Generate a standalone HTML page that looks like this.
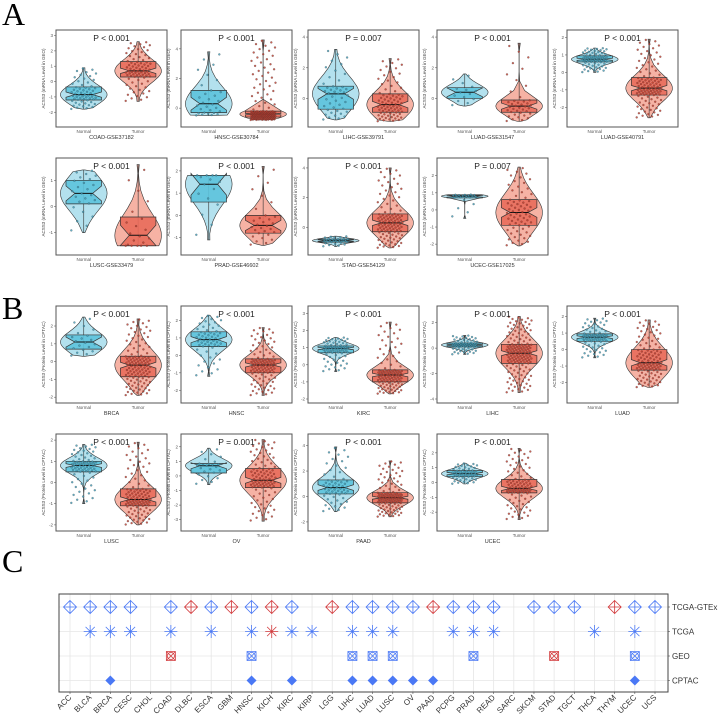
<!DOCTYPE html>
<html><head><meta charset="utf-8">
<style>
html,body{margin:0;padding:0;background:#fff;}
svg{display:block;font-family:"Liberation Sans",sans-serif;}
</style></head>
<body>
<svg id="fig" width="719" height="718" viewBox="0 0 719 718" xmlns="http://www.w3.org/2000/svg">
<text x="2" y="25" font-family="Liberation Serif,serif" font-size="32">A</text>
<text x="2" y="319" font-family="Liberation Serif,serif" font-size="32">B</text>
<text x="2" y="572" font-family="Liberation Serif,serif" font-size="32">C</text>
<g id="violins"></g>
<g id="panelc"></g>
</svg>
<script>
// ---- violin panel data ----
const panelNames = ["COAD-GSE37182","HNSC-GSE30784","LIHC-GSE39791","LUAD-GSE31547","LUAD-GSE40791","LUSC-GSE33479","PRAD-GSE46602","STAD-GSE54129","UCEC-GSE17025",
  "BRCA","HNSC","KIRC","LIHC","LUAD","LUSC","OV","PAAD","UCEC"];
const panelP = ["P < 0.001","P < 0.001","P = 0.007","P < 0.001","P < 0.001","P < 0.001","P < 0.001","P < 0.001","P = 0.007",
  "P < 0.001","P < 0.001","P < 0.001","P < 0.001","P < 0.001","P < 0.001","P = 0.001","P < 0.001","P < 0.001"];
const panelYlim = [[-2.7,3.1],[-1,5],[-1.6,4.2],[-1.6,4.2],[-2.9,2.2],[-1.7,1.7],[-1.6,2.4],[-1.6,4.4],[-2.4,2.8],
  [-2.1,2.9],[-2.5,2.6],[-2,3.2],[-4,3],[-3,2.4],[-2.1,2.1],[-3.5,2.6],[-2.4,4.6],[-3,3]];
const panelTicks = [[-2,-1,0,1,2,3],[0,2,4],[0,2,4],[0,2,4],[-2,-1,0,1,2],[-1,0,1],[-1,0,1,2],[0,2,4],[-2,-1,0,1,2],
  [-2,-1,0,1,2],[-2,-1,0,1,2],[-2,-1,0,1,2,3],[-4,-2,0,2],[-2,-1,0,1,2],[-2,-1,0,1,2],[-3,-2,-1,0,1,2],[-2,0,2,4],[-2,-1,0,1,2]];
const normalStats = [[-1.8,-1.2,-0.85,-0.35,0.9],[-0.5,-0.3,0.3,1.2,3.8],[-1.4,-0.7,0.3,0.8,3.2],[-0.5,0.0,0.4,0.7,1.6],[0,0.6,0.75,0.95,1.4],
  [-1.0,0.1,0.5,1.0,1.4],[-1.1,0.6,1.4,1.8,1.8],[-1.3,-1.0,-0.9,-0.8,-0.6],[-0.5,0.7,0.8,0.85,0.9],
  [0.3,0.7,1.1,1.5,2.5],[-1.2,0.5,0.9,1.35,2.3],[-0.4,0.7,0.95,1.1,1.6],[-0.5,0.1,0.25,0.4,1.0],[-0.5,0.5,0.75,0.95,1.9],
  [-1.0,0.5,0.8,1.0,1.8],[-0.6,0.2,0.7,0.85,1.9],[-1.2,0.2,0.7,1.3,3.9],[-0.1,0.4,0.6,0.8,1.3]];
const tumorStats = [[-1.3,0.3,0.7,1.3,2.6],[-0.8,-0.6,-0.4,-0.2,4.6],[-1.5,-0.9,-0.4,0.3,2.6],[-1.5,-0.9,-0.5,-0.1,3.6],[-2.6,-1.3,-0.9,-0.3,1.9],
  [-1.5,-1.5,-1.1,-0.4,1.6],[-1.35,-0.8,-0.45,0.0,2.2],[-1.4,-0.3,0.3,0.9,4.0],[-2.1,-0.9,-0.15,0.6,2.5],
  [-1.9,-0.85,-0.2,0.3,2.4],[-2.3,-1.0,-0.55,-0.2,1.6],[-1.7,-1.0,-0.6,-0.3,2.5],[-3.5,-1.2,-0.4,0.3,2.5],[-2.3,-1.25,-0.8,0.0,1.8],
  [-2.0,-1.1,-0.8,-0.3,1.9],[-3.1,-0.8,-0.3,0.5,2.5],[-1.6,-0.5,-0.1,0.3,2.8],[-2.5,-0.7,-0.4,0.2,2.3]];
const normalN = [60,30,45,15,80,25,15,30,20,20,60,80,70,80,80,25,60,60];
const tumorN = [80,170,80,40,110,20,30,110,70,120,110,110,150,110,110,100,120,100];

const NS="http://www.w3.org/2000/svg";
function mk(tag,attrs,parent){const e=document.createElementNS(NS,tag);for(const k in attrs)e.setAttribute(k,attrs[k]);if(parent)parent.appendChild(e);return e;}
const colX=[56,181,308,437,567], rowY=[30,158,306,434], PW=111, PH=97;
const vg=document.getElementById('violins');
function quant(s,u){
  const k=[0,0.25,0.5,0.75,1];for(let i=0;i<4;i++){if(u<=k[i+1]){const t=(u-k[i])/(k[i+1]-k[i]);return s[i]+t*(s[i+1]-s[i]);}}return s[4];}
panelNames.forEach((nm,p)=>{
  const x0=colX[p<9?p%5:(p-9)%5], row=p<9?(p<5?0:1):(p-9<5?2:3), y0=rowY[row];
  const g=mk('g',{},vg);
  
  
  const [lo,hi]=panelYlim[p];
  const ys=v=>y0+PH-4-(v-lo)/(hi-lo)*(PH-8);
  panelTicks[p].forEach(t=>{
    mk('line',{x1:x0-2,x2:x0,y1:ys(t),y2:ys(t),stroke:'#666','stroke-width':0.6},g);
    const tl=mk('text',{x:x0-3,y:ys(t)+1.5,'font-size':4.5,'text-anchor':'end',fill:'#555'},g);tl.textContent=t;
  });
  const yl=mk('text',{x:x0-11,y:y0+PH/2,'font-size':4.5,'text-anchor':'middle',fill:'#444',transform:`rotate(-90 ${x0-11} ${y0+PH/2})`},g);
  yl.textContent= p<9?'ACSS3 (mRNA Level in GEO)':'ACSS3 (Protein Level in CPTAC)';
  
  
  [[normalStats[p],0.25,'#b3e1ee','#5cc3db','#3d9bb8',normalN[p],'Normal'],[tumorStats[p],0.74,'#f6b2a4','#e96b5b','#c0392b',tumorN[p],'Tumor']].forEach(([s,f,vc,bc,pc,n,lab],gi)=>{
    const cx=x0+f*PW, vw=PW*0.21, bw=PW*0.16;
    let pts=[];
    for(let i=0;i<=24;i++){const u=i/24;const v=quant(s,u);
      let w;const iq=(s[3]-s[1])||0.1;const d=(v-s[2])/iq;w=Math.exp(-d*d*0.9);if(i==0||i==24)w=0.05;pts.push([v,w]);}
    let path='M'+pts.map(([v,w])=>`${(cx+w*vw).toFixed(1)},${ys(v).toFixed(1)}`).join(' L')+' L'+pts.slice().reverse().map(([v,w])=>`${(cx-w*vw).toFixed(1)},${ys(v).toFixed(1)}`).join(' L')+'Z';
    const vp=mk('path',{d:path,fill:vc,stroke:'#333','stroke-width':0.6},g);
    
    
    mk('line',{x1:cx,x2:cx,y1:ys(s[0]),y2:ys(s[4]),stroke:'#333','stroke-width':0.6},g);
    const nh=Math.min(1.58*(s[3]-s[1])/Math.sqrt(n),(s[3]-s[1])/2);
    const bx=`M${cx-bw},${ys(s[3])} L${cx+bw},${ys(s[3])} L${cx+bw},${ys(s[2]+nh)} L${cx+bw*0.5},${ys(s[2])} L${cx+bw},${ys(s[2]-nh)} L${cx+bw},${ys(s[1])} L${cx-bw},${ys(s[1])} L${cx-bw},${ys(s[2]-nh)} L${cx-bw*0.5},${ys(s[2])} L${cx-bw},${ys(s[2]+nh)}Z`;
    const bp=mk('path',{d:bx,fill:bc,'fill-opacity':0.9,stroke:'#333','stroke-width':0.7},g);
    
    
    mk('line',{x1:cx-bw*0.5,x2:cx+bw*0.5,y1:ys(s[2]),y2:ys(s[2]),stroke:'#111','stroke-width':1},g);
    for(let i=0;i<n;i++){const u=(i+0.5)/n;const v=quant(s,u);const jx=((i*0.618034)%1-0.5)*2*bw*0.7;
      mk('circle',{cx:(cx+jx).toFixed(1),cy:ys(v).toFixed(1),r:1.0,fill:pc,'fill-opacity':0.8,stroke:'#333','stroke-width':0.2},g);}
    const xl=mk('text',{x:cx,y:y0+PH+6,'font-size':4.5,'text-anchor':'middle',fill:'#555'},g);xl.textContent=lab;
  });
  const fr=mk('rect',{x:x0,y:y0,width:PW,height:PH,fill:'none',stroke:'#555','stroke-width':1},g);
  
  
  const pt=mk('text',{x:x0+PW/2,y:y0+11,'font-size':8.5,'text-anchor':'middle',fill:'#222'},g);pt.textContent=panelP[p];
  
  
  const nt=mk('text',{x:x0+PW/2,y:y0+PH+12,'font-size':5.5,'text-anchor':'middle',fill:'#333'},g);nt.textContent=nm;
  
  
});

// ---- panel C data ----
const cancers=["ACC","BLCA","BRCA","CESC","CHOL","COAD","DLBC","ESCA","GBM","HNSC","KICH","KIRC","KIRP","LGG","LIHC","LUAD","LUSC","OV","PAAD","PCPG","PRAD","READ","SARC","SKCM","STAD","TGCT","THCA","THYM","UCEC","UCS"];
const sources=["TCGA-GTEx","TCGA","GEO","CPTAC"];
const gtexDir=[1,1,1,1,0,1,2,1,2,1,2,1,0,2,1,1,1,1,2,1,1,1,0,1,1,1,0,2,1,1];
const tcgaDir=[0,1,1,1,0,1,0,1,0,1,2,1,1,0,1,1,1,0,0,1,1,1,0,0,0,0,1,0,1,0];
const geoDir =[0,0,0,0,0,2,0,0,0,1,0,0,0,0,1,1,1,0,0,0,1,0,0,0,2,0,0,0,1,0];
const cptacDir=[0,0,1,0,0,0,0,0,0,1,0,1,0,0,1,1,1,1,1,0,0,0,0,0,0,0,0,0,1,0];
const pc=document.getElementById('panelc');
const L=59,R=668,T=594,B=692;
const xc=i=>70+i*(655-70)/(cancers.length-1);
const yc=j=>607+j*24.5;
mk('rect',{x:L,y:T,width:R-L,height:B-T,fill:'#fff'},pc);
cancers.forEach((c,i)=>{mk('line',{x1:xc(i),x2:xc(i),y1:T,y2:B,stroke:'#e6e6e6','stroke-width':0.8},pc);
  mk('line',{x1:xc(i),x2:xc(i),y1:B,y2:B+2,stroke:'#555','stroke-width':0.6},pc);
  const t=mk('text',{x:xc(i)+2,y:B+6,'font-size':8,'text-anchor':'end',fill:'#333',transform:`rotate(-45 ${xc(i)+2} ${B+6})`},pc);t.textContent=c;
  
  });
sources.forEach((s,j)=>{mk('line',{x1:L,x2:R,y1:yc(j),y2:yc(j),stroke:'#e6e6e6','stroke-width':0.8},pc);
  mk('line',{x1:R,x2:R+2,y1:yc(j),y2:yc(j),stroke:'#555','stroke-width':0.6},pc);
  const t=mk('text',{x:R+4,y:yc(j)+3,'font-size':8,fill:'#333'},pc);t.textContent=s;
  
  });
const col=d=>d==2?'#d2393b':'#4a78f5';
[gtexDir,tcgaDir,geoDir,cptacDir].forEach((arr,j)=>{arr.forEach((d,i)=>{if(!d)return;
  const x=xc(i),y=yc(j),c=col(d);const g=mk('g',{},pc);
  
  
  if(j==0){mk('path',{d:`M${x},${y-6.5}L${x+6.5},${y}L${x},${y+6.5}L${x-6.5},${y}Z M${x-6.5},${y}H${x+6.5} M${x},${y-6.5}V${y+6.5}`,fill:'none',stroke:c,'stroke-width':0.8},g);}
  else if(j==1){mk('path',{d:`M${x-6.5},${y}H${x+6.5} M${x},${y-6.5}V${y+6.5} M${x-4.6},${y-4.6}L${x+4.6},${y+4.6} M${x-4.6},${y+4.6}L${x+4.6},${y-4.6}`,fill:'none',stroke:c,'stroke-width':0.8},g);}
  else if(j==2){mk('path',{d:`M${x-4.5},${y-4.5}h9v9h-9Z M${x-4.5},${y-4.5}L${x+4.5},${y+4.5} M${x-4.5},${y+4.5}L${x+4.5},${y-4.5}`,fill:'none',stroke:c,'stroke-width':0.8},g);
    mk('circle',{cx:x,cy:y,r:3.6,fill:'none',stroke:c,'stroke-width':0.8},g);}
  else {mk('path',{d:`M${x},${y-5}L${x+5},${y}L${x},${y+5}L${x-5},${y}Z`,fill:c},g);}
});});
const fr=mk('rect',{x:L,y:T,width:R-L,height:B-T,fill:'none',stroke:'#444','stroke-width':1},pc);


</script>
</body></html>
